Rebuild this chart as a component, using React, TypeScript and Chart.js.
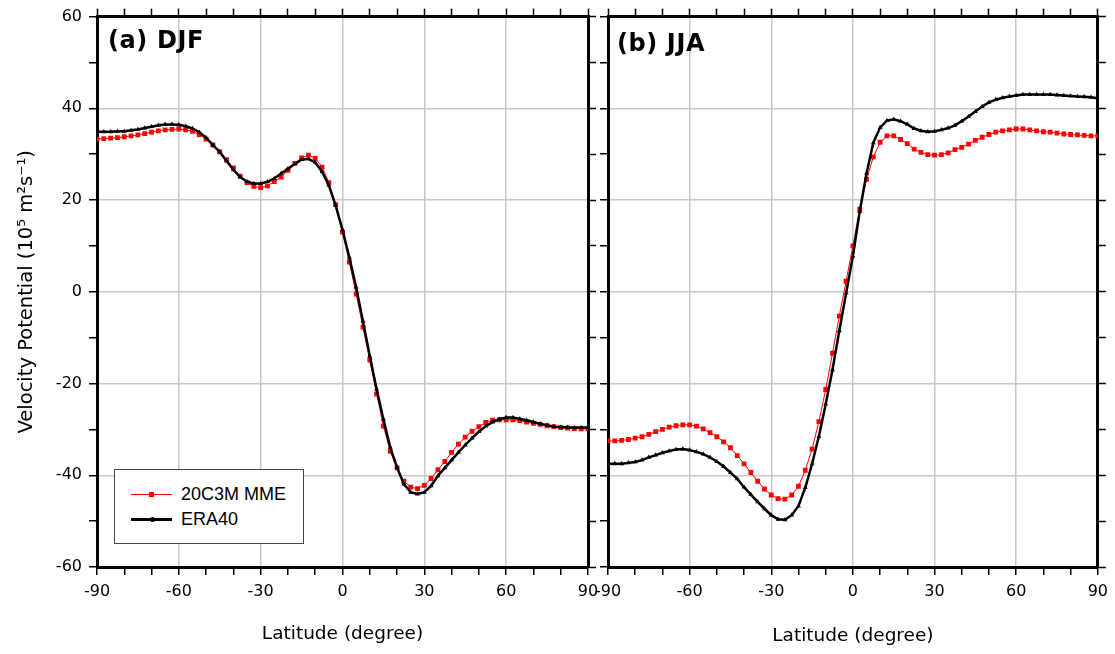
import React, { useEffect, useRef } from 'react';
import { Chart, registerables } from 'chart.js';

Chart.register(...registerables);

const LATS = [
  -90, -87.5, -85, -82.5, -80, -77.5, -75, -72.5, -70, -67.5, -65, -62.5, -60,
  -57.5, -55, -52.5, -50, -47.5, -45, -42.5, -40, -37.5, -35, -32.5, -30,
  -27.5, -25, -22.5, -20, -17.5, -15, -12.5, -10, -7.5, -5, -2.5, 0,
  2.5, 5, 7.5, 10, 12.5, 15, 17.5, 20, 22.5, 25, 27.5, 30,
  32.5, 35, 37.5, 40, 42.5, 45, 47.5, 50, 52.5, 55, 57.5, 60,
  62.5, 65, 67.5, 70, 72.5, 75, 77.5, 80, 82.5, 85, 87.5, 90,
];

const DJF_ERA40 = [
  34.9, 34.9, 34.9, 35.0, 35.0, 35.2, 35.4, 35.7, 36.0, 36.3, 36.5, 36.5, 36.4,
  36.1, 35.6, 34.8, 33.6, 32.0, 30.5, 28.5, 26.6, 25.0, 24.0, 23.6, 23.6,
  24.0, 24.7, 25.8, 26.8, 27.9, 28.8, 29.0, 28.2, 26.2, 23.2, 18.8, 13.5,
  7.5, 1.0, -6.4, -14.0, -21.2, -27.8, -33.9, -38.3, -41.9, -43.7, -44.1, -43.7,
  -42.3, -40.1, -38.4, -36.7, -35.0, -33.4, -31.9, -30.5, -29.3, -28.4, -27.8, -27.4,
  -27.4, -27.7, -28.0, -28.4, -28.8, -29.1, -29.4, -29.5, -29.6, -29.6, -29.6, -29.6,
];

const DJF_MME = [
  33.3, 33.4, 33.5, 33.6, 33.8, 34.0, 34.2, 34.5, 34.8, 35.1, 35.3, 35.4, 35.5,
  35.3, 35.0, 34.3, 33.3, 32.0, 30.5, 28.8, 27.0, 25.2, 23.8, 23.0, 22.7,
  23.1, 24.0, 25.0, 26.5, 28.0, 29.2, 29.8, 29.1, 27.2, 23.8, 19.0, 13.0,
  6.5, -0.5, -7.7, -14.9, -22.3, -29.3, -34.8, -38.4, -41.3, -42.6, -42.9, -42.2,
  -40.7, -38.8, -37.0, -35.0, -33.2, -31.7, -30.4, -29.4, -28.5, -28.0, -27.9, -27.9,
  -27.9, -28.1, -28.4, -28.7, -28.9, -29.2, -29.4, -29.6, -29.7, -29.8, -29.9, -29.9,
];

const JJA_ERA40 = [
  -37.5, -37.5, -37.5, -37.3, -37.1, -36.7, -36.1, -35.6, -35.1, -34.7, -34.4, -34.3, -34.5,
  -34.9, -35.4, -36.1, -37.0, -38.1, -39.4, -40.8, -42.6, -44.2, -45.8, -47.3, -48.7,
  -49.6, -49.7, -48.7, -46.7, -42.7, -37.5, -31.5, -24.5, -17.0, -8.5, -0.3, 7.8,
  17.5, 25.8, 32.5, 35.8, 37.3, 37.6, 37.2, 36.5, 35.6, 35.1, 34.9, 35.0,
  35.3, 35.7, 36.3, 37.2, 38.2, 39.3, 40.4, 41.3, 41.9, 42.3, 42.6, 42.8,
  43.0, 43.0, 43.0, 43.0, 43.0, 42.9, 42.8, 42.7, 42.6, 42.5, 42.4, 42.2,
];

const JJA_MME = [
  -32.5, -32.5, -32.4, -32.2, -31.9, -31.6, -31.1, -30.5, -30.0, -29.5, -29.2, -29.0, -29.0,
  -29.3, -29.9, -30.7, -31.6, -32.7, -34.0, -35.7, -37.5, -39.4, -41.3, -43.0, -44.3,
  -45.1, -45.2, -44.3, -42.4, -38.9, -34.3, -28.3, -21.3, -13.4, -5.3, 2.3, 10.0,
  18.0, 24.5, 29.4, 32.6, 34.0, 34.0, 33.2, 32.3, 31.1, 30.4, 29.9, 29.8,
  29.9, 30.3, 31.0, 31.5, 32.2, 33.0, 33.7, 34.3, 34.8, 35.1, 35.3, 35.5,
  35.5, 35.3, 35.1, 34.9, 34.8, 34.6, 34.4, 34.3, 34.2, 34.1, 34.0, 34.0,
];

const X_LABELED = [-90, -60, -30, 0, 30, 60, 90];
const Y_LABELED = [-60, -40, -20, 0, 20, 40, 60];
const SERIES_NAMES = ['20C3M MME', 'ERA40'];
const PANEL_TITLES = ['(a) DJF', '(b) JJA'];
const X_TITLE = 'Latitude (degree)';
const Y_TITLE = 'Velocity Potential (10⁵ m²s⁻¹)';

const TICK_FONT = { family: '"DejaVu Sans", Verdana, sans-serif', size: 16 };
const X_TITLE_FONT = { family: '"DejaVu Sans", Verdana, sans-serif', size: 18.5 };
const Y_TITLE_FONT = { family: '"DejaVu Sans", Verdana, sans-serif', size: 19.5 };
const GRID_COLOR = '#c8c8c8';

const panelLabel = {
  id: 'panelLabel',
  afterDraw(chart: any, _args: any, opts: any) {
    const { ctx, chartArea } = chart;
    ctx.save();
    ctx.font = 'bold 24px "DejaVu Sans", Verdana, sans-serif';
    try {
      (ctx as any).letterSpacing = '0.6px';
    } catch (e) {}
    ctx.fillStyle = '#000';
    ctx.textBaseline = 'alphabetic';
    ctx.textAlign = 'left';
    ctx.fillText(opts.text, chartArea.left + opts.dx, chartArea.top + opts.dy);
    ctx.restore();
  },
};

function toPoints(vals: number[]) {
  return LATS.map((x, i) => ({ x, y: vals[i] }));
}

function buildConfig(p: {
  era: number[];
  mme: number[];
  title: string;
  leftW: number;
  rightW: number;
  showYLabels: boolean;
  xTitlePad: number;
  labelDx: number;
  labelDy: number;
}): any {
  const majorGrid = (step: number) => (c: any) =>
    c.tick && Math.abs(c.tick.value % step) < 1e-9 ? GRID_COLOR : 'rgba(0,0,0,0)';
  const hiddenAxisCommon = {
    ticks: { stepSize: 10, autoSkip: false, callback: () => '', padding: 0 },
    grid: { drawOnChartArea: false, tickColor: '#000', tickLength: 8, tickWidth: 1.5 },
    border: { color: '#000', width: 3 },
  };
  return {
    type: 'line',
    data: {
      datasets: [
        {
          label: SERIES_NAMES[1],
          data: toPoints(p.era),
          borderColor: '#000',
          backgroundColor: '#000',
          borderWidth: 2.5,
          pointStyle: 'triangle',
          pointRadius: 2.8,
          pointBorderWidth: 0,
          pointBackgroundColor: '#000',
          xAxisID: 'x',
          yAxisID: 'y',
        },
        {
          label: SERIES_NAMES[0],
          data: toPoints(p.mme),
          borderColor: '#ff0000',
          backgroundColor: '#ff0000',
          borderWidth: 1,
          pointStyle: 'rect',
          pointRadius: 3.4,
          pointBorderWidth: 0,
          pointBackgroundColor: '#ff0000',
          xAxisID: 'x',
          yAxisID: 'y',
        },
      ],
    },
    options: {
      responsive: false,
      maintainAspectRatio: false,
      animation: false,
      devicePixelRatio: 1,
      layout: { padding: 0 },
      events: [],
      plugins: {
        legend: { display: false },
        tooltip: { enabled: false },
        panelLabel: { text: p.title, dx: p.labelDx, dy: p.labelDy },
      },
      scales: {
        x: {
          type: 'linear',
          axis: 'x',
          position: 'bottom',
          min: -90,
          max: 90,
          afterFit: (s: any) => {
            s.height = 654 - 567;
          },
          ticks: {
            stepSize: 10,
            autoSkip: false,
            maxRotation: 0,
            color: '#000',
            font: TICK_FONT,
            padding: 7,
            callback: (v: number) => (X_LABELED.includes(v) ? String(v) : ''),
          },
          grid: {
            color: majorGrid(30),
            lineWidth: 1.5,
            tickColor: '#000',
            tickLength: 8,
            tickWidth: 1.5,
          },
          border: { color: '#000', width: 3 },
          title: {
            display: true,
            text: X_TITLE,
            color: '#000',
            font: X_TITLE_FONT,
            padding: { top: 0, bottom: p.xTitlePad },
          },
        },
        x2: {
          type: 'linear',
          axis: 'x',
          position: 'top',
          min: -90,
          max: 90,
          afterFit: (s: any) => {
            s.height = 15.3;
          },
          ...hiddenAxisCommon,
        },
        y: {
          type: 'linear',
          axis: 'y',
          position: 'left',
          min: -60,
          max: 60,
          afterFit: (s: any) => {
            s.width = p.leftW;
          },
          ticks: {
            stepSize: 10,
            autoSkip: false,
            color: '#000',
            font: TICK_FONT,
            padding: 7,
            callback: (v: number) => (p.showYLabels && Y_LABELED.includes(v) ? String(v) : ''),
          },
          grid: {
            color: majorGrid(20),
            lineWidth: 1.5,
            tickColor: '#000',
            tickLength: 8,
            tickWidth: 1.5,
          },
          border: { color: '#000', width: 3 },
          title: {
            display: p.showYLabels,
            text: Y_TITLE,
            color: '#000',
            font: Y_TITLE_FONT,
            padding: { top: 15, bottom: 0 },
          },
        },
        y2: {
          type: 'linear',
          axis: 'y',
          position: 'right',
          min: -60,
          max: 60,
          afterFit: (s: any) => {
            s.width = p.rightW;
          },
          ...hiddenAxisCommon,
        },
      },
    },
    plugins: [panelLabel],
  };
}

function Panel(props: { left: number; width: number; cfg: any }) {
  const ref = useRef<HTMLCanvasElement | null>(null);
  useEffect(() => {
    if (!ref.current) return;
    const chart = new Chart(ref.current, props.cfg);
    return () => chart.destroy();
  }, []);
  return (
    <canvas
      ref={ref}
      width={props.width}
      height={654}
      style={{ position: 'absolute', left: props.left, top: 0, width: props.width, height: 654 }}
    />
  );
}

const LEFT_CANVAS_W = 620;
const RIGHT_CANVAS_LEFT = 560;
const RIGHT_CANVAS_W = 555;

export default function App() {
  const leftCfg = buildConfig({
    era: DJF_ERA40,
    mme: DJF_MME,
    title: PANEL_TITLES[0],
    leftW: 97,
    rightW: LEFT_CANVAS_W - 588,
    showYLabels: true,
    xTitlePad: 9,
    labelDx: 11,
    labelDy: 31.5,
  });
  const rightCfg = buildConfig({
    era: JJA_ERA40,
    mme: JJA_MME,
    title: PANEL_TITLES[1],
    leftW: 608 - RIGHT_CANVAS_LEFT,
    rightW: RIGHT_CANVAS_W - (1098.5 - RIGHT_CANVAS_LEFT),
    showYLabels: false,
    xTitlePad: 6.5,
    labelDx: 9,
    labelDy: 34.7,
  });
  return (
    <div
      style={{
        position: 'absolute',
        left: 0,
        top: 0,
        width: 1115,
        height: 654,
        background: '#fff',
        overflow: 'hidden',
      }}
    >
      <Panel left={0} width={LEFT_CANVAS_W} cfg={leftCfg} />
      <Panel left={RIGHT_CANVAS_LEFT} width={RIGHT_CANVAS_W} cfg={rightCfg} />
      <div
        style={{
          position: 'absolute',
          left: 114,
          top: 469,
          width: 188,
          height: 73,
          border: '1px solid #444',
          background: '#fff',
          fontFamily: '"Liberation Sans", Arial, sans-serif',
          fontSize: 18,
          color: '#000',
        }}
      >
        <div style={{ position: 'absolute', left: 16, top: 24, width: 41, height: 1, background: '#ff0000' }} />
        <div style={{ position: 'absolute', left: 34, top: 22, width: 5, height: 5, background: '#ff0000' }} />
        <div style={{ position: 'absolute', left: 66, top: 13, lineHeight: '22px', whiteSpace: 'nowrap' }}>
          {SERIES_NAMES[0]}
        </div>
        <div style={{ position: 'absolute', left: 16, top: 48, width: 41, height: 2.5, background: '#000' }} />
        <div
          style={{ position: 'absolute', left: 34.5, top: 46.5, width: 5, height: 5, borderRadius: '50%', background: '#000' }}
        />
        <div style={{ position: 'absolute', left: 66, top: 38, lineHeight: '22px', whiteSpace: 'nowrap' }}>
          {SERIES_NAMES[1]}
        </div>
      </div>
    </div>
  );
}
